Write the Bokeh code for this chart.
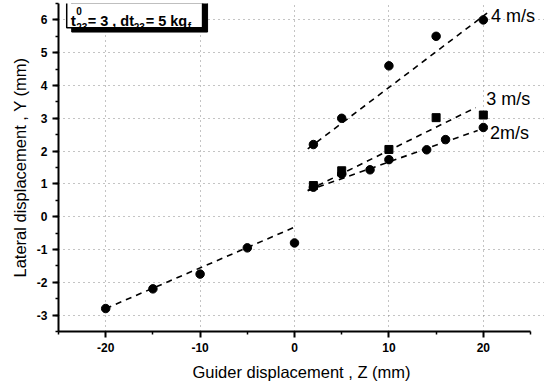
from bokeh.plotting import figure
from bokeh.models import FixedTicker, Label
from bokeh.core.properties import value
from bokeh.embed import file_html
from bokeh.resources import INLINE
import numpy as np

# ---- data ----
neg_z = [-20, -15, -10, -5, 0]
neg_y = [-2.8, -2.2, -1.75, -0.95, -0.8]

z_4 = [2, 5, 10, 15, 20]
y_4 = [2.2, 3.0, 4.6, 5.5, 6.0]

z_3 = [2, 5, 10, 15, 20]
y_3 = [0.95, 1.4, 2.05, 3.02, 3.1]

z_2 = [2, 5, 8, 10, 14, 16, 20]
y_2 = [0.9, 1.3, 1.43, 1.74, 2.04, 2.35, 2.72]

# fitted lines: z start, z end, slope, intercept
fit_names = ["neg", "4 m/s", "3 m/s", "2m/s"]
fit_z0 = [-20, 1.4, 1.4, 1.4]
fit_z1 = [-0.1, 20.4, 19.2, 19.4]
fit_slope = [0.124, 0.218, 0.142, 0.102]
fit_icpt = [-0.32, 1.76, 0.60, 0.65]

x_ticks = [-20, -10, 0, 10, 20]
y_ticks = [-3, -2, -1, 0, 1, 2, 3, 4, 5, 6]

lab_names = ["4 m/s", "3 m/s", "2m/s"]
lab_z = [20.8, 20.3, 20.7]
lab_y = [6.13, 3.6, 2.56]

FONT = "Liberation Sans"

p = figure(width=544, height=386, x_range=(-25, 26.48), y_range=(-3.5, 6.5),
           output_backend="svg", toolbar_location=None,
           min_border_left=58, min_border_right=0, min_border_top=3,
           min_border_bottom=55)
p.outline_line_color = None
p.background_fill_color = "white"

for ax in (p.xaxis, p.yaxis):
    ax.axis_line_width = 2
    ax.axis_line_color = "black"
    ax.major_tick_line_width = 2
    ax.minor_tick_line_width = 1.5
    ax.major_tick_out = 6
    ax.major_tick_in = 0
    ax.minor_tick_out = 3
    ax.minor_tick_in = 0
    ax.major_label_text_font = FONT
    ax.major_label_text_font_style = "bold"
    ax.major_label_text_font_size = "12px"
    ax.major_label_text_color = "black"
    ax.axis_label_text_font = FONT
    ax.axis_label_text_font_style = "normal"
    ax.axis_label_text_font_size = "16.5px"
    ax.axis_label_text_color = "black"

p.xaxis.bounds = (-25, 25)
p.xaxis.ticker = FixedTicker(ticks=x_ticks, minor_ticks=[-25, -15, -5, 5, 15, 25])
p.yaxis.ticker = FixedTicker(ticks=y_ticks, minor_ticks=list(np.arange(-3.5, 6.51, 0.5)))
p.xaxis.major_label_overrides = {t: str(t) for t in x_ticks}
p.yaxis.major_label_overrides = {t: str(t) for t in y_ticks}
p.xaxis.axis_label = "Guider displacement , Z (mm)"
p.yaxis.axis_label = "Lateral displacement , Y (mm)"
p.xaxis.axis_label_standoff = 8
p.yaxis.axis_label_standoff = 5

for g in (p.xgrid, p.ygrid):
    g.grid_line_color = "#888888"
    g.grid_line_dash = "1 4"
    g.grid_line_width = 1

# fit lines
for z0, z1, m, b in zip(fit_z0, fit_z1, fit_slope, fit_icpt):
    zz = [z0, z1]
    p.line(zz, [m * z + b for z in zz], line_color="black", line_width=1.6,
           line_dash="6 5")

# points
p.scatter(neg_z, neg_y, marker="circle", size=8.5, color="black")
p.scatter(z_4, y_4, marker="circle", size=8.5, color="black")
p.scatter(z_3, y_3, marker="square", size=8, color="black")
p.scatter(z_2, y_2, marker="circle", size=8.5, color="black")

# series labels
for name, lz, ly in zip(lab_names, lab_z, lab_y):
    p.add_layout(Label(x=lz, y=ly, text=name, text_font=FONT,
                       text_font_size="18px", text_baseline="middle",
                       text_align="left", text_color="black"))

# annotation box with shadow
bx0, bx1, by0, by1 = -24.13, -9.74, 5.76, 6.7
p.quad(left=[bx0 + 0.53], right=[bx1 + 0.53], bottom=[by0 - 0.13], top=[by1],
       fill_color="black", line_color="black")
p.quad(left=[bx0], right=[bx1], bottom=[by0], top=[by1],
       fill_color="white", line_color="black", line_width=1.5)

pieces = [
    ("t", 4, -7, "15.5px"),
    ("0", 9.5, -17, "10px"),
    ("23", 9.5, -1, "10px"),
    ("= 3 , dt", 21, -7, "14.5px"),
    ("23", 67, -1, "10px"),
    ("= 5 kg", 79, -7, "14.5px"),
    ("f", 121, -1, "10px"),
]
for txt, xo, yo, fs in pieces:
    p.text([bx0], [by0], text=[txt], x_offset=xo, y_offset=yo,
           text_font=value(FONT), text_font_style="bold",
           text_font_size=fs, text_baseline="alphabetic",
           text_align="left", text_color="black")

open("out.html", "w").write(file_html(p, INLINE))
